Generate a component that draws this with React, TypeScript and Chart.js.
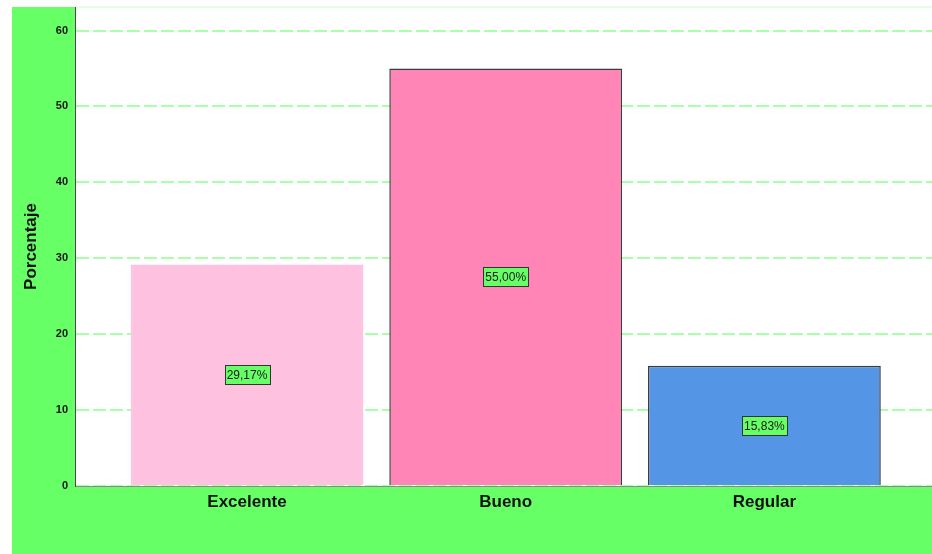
import React, { useEffect, useRef } from "react";
import { Chart, registerables } from "chart.js";

Chart.register(...registerables);

const categories = ["Excelente", "Bueno", "Regular"];
const values = [29.17, 55.0, 15.83];
const valueLabels = ["29,17%", "55,00%", "15,83%"];
const barColors = ["#FFC1E0", "#FF85B6", "#5595E5"];
const barBorders = ["#FFC1E0", "#3c3c3c", "#3c3c3c"];
const yTicks = [0, 10, 20, 30, 40, 50, 60];

const GREEN = "#66FF66";

const backgroundPlugin = {
  id: "bgPanels",
  beforeDraw(chart: any) {
    const { ctx, chartArea } = chart;
    ctx.save();
    ctx.fillStyle = "#ffffff";
    ctx.fillRect(0, 0, chart.width, chart.height);
    ctx.fillStyle = GREEN;
    ctx.fillRect(12, chartArea.top, chart.width - 12, chart.height - chartArea.top);
    ctx.fillStyle = "#ffffff";
    ctx.fillRect(chartArea.left, chartArea.top, chartArea.right - chartArea.left, chartArea.bottom - chartArea.top);
    ctx.strokeStyle = "#e2ffe2";
    ctx.lineWidth = 2;
    ctx.beginPath();
    ctx.moveTo(chartArea.left, chartArea.top);
    ctx.lineTo(chartArea.right, chartArea.top);
    ctx.stroke();
    ctx.restore();
  },
};

const labelPlugin = {
  id: "boxLabels",
  afterDatasetsDraw(chart: any) {
    const { ctx } = chart;
    const meta = chart.getDatasetMeta(0);
    ctx.save();
    ctx.font = "12px 'Liberation Sans', Arial, sans-serif";
    ctx.textAlign = "center";
    ctx.textBaseline = "middle";
    meta.data.forEach((bar: any, i: number) => {
      const { x, y, base } = bar.getProps(["x", "y", "base"], true);
      const cy = (y + base) / 2;
      const text = valueLabels[i];
      const w = ctx.measureText(text).width + 4;
      const h = 19;
      ctx.fillStyle = GREEN;
      ctx.fillRect(Math.round(x - w / 2) + 0.5, Math.round(cy - h / 2) + 0.5, Math.round(w), h);
      ctx.strokeStyle = "#333333";
      ctx.lineWidth = 1;
      ctx.strokeRect(Math.round(x - w / 2) + 0.5, Math.round(cy - h / 2) + 0.5, Math.round(w), h);
      ctx.fillStyle = "#1a1a1a";
      ctx.fillText(text, x, cy + 1);
    });
    ctx.restore();
  },
};

export default function App() {
  const ref = useRef<HTMLCanvasElement | null>(null);

  useEffect(() => {
    if (!ref.current) return;
    const chart = new Chart(ref.current, {
      type: "bar",
      data: {
        datasets: [
          {
            data: values.map((v, i) => ({ x: i, y: v })),
            backgroundColor: barColors,
            borderColor: barBorders,
            borderWidth: 1.5,
            barPercentage: 0.9,
            categoryPercentage: 1,
          },
        ],
      },
      options: {
        animation: false,
        responsive: false,
        maintainAspectRatio: false,
        layout: { padding: { top: 7, left: 0, right: 0, bottom: 0 } },
        plugins: {
          legend: { display: false },
          tooltip: { enabled: false },
        },
        scales: {
          x: {
            type: "linear",
            offset: false,
            min: -0.665,
            max: 2.648,
            grid: { display: false, drawTicks: false, offset: false },
            border: { display: true, color: "#8a8a8a", width: 1 },
            afterBuildTicks: (scale: any) => {
              scale.ticks = categories.map((_, i) => ({ value: i }));
            },
            afterFit: (scale: any) => {
              scale.height = 68;
              scale.paddingLeft = 0;
              scale.paddingRight = 0;
            },
            ticks: {
              padding: 6,
              maxRotation: 0,
              autoSkip: false,
              color: "#111111",
              font: { family: "'Liberation Sans', Arial, sans-serif", size: 17, weight: "bold" },
              callback: (v: any) => categories[Math.round(Number(v))] ?? "",
            },
          },
          y: {
            type: "linear",
            min: 0,
            max: 63.1,
            afterBuildTicks: (scale: any) => {
              scale.ticks = yTicks.map((v) => ({ value: v }));
            },
            afterFit: (scale: any) => {
              scale.width = 75;
              scale.paddingTop = 0;
              scale.paddingBottom = 0;
            },
            grid: {
              display: true,
              drawTicks: false,
              color: "#aaffaa",
              lineWidth: 2,
            },
            border: { display: true, color: "#4a4a4a", width: 1, dash: [13, 4] },
            ticks: {
              padding: 7,
              color: "#111111",
              font: { family: "'Liberation Sans', Arial, sans-serif", size: 11, weight: "bold" },
            },
            title: {
              display: true,
              text: "Porcentaje",
              color: "#111111",
              padding: { top: 21, bottom: 0 },
              font: { family: "'Liberation Sans', Arial, sans-serif", size: 17, weight: "bold" },
            },
          },
        },
      },
      plugins: [backgroundPlugin, labelPlugin],
    } as any);
    return () => chart.destroy();
  }, []);

  return (
    <div style={{ position: "absolute", left: 0, top: 0, width: 932, height: 554 }}>
      <canvas ref={ref} width={932} height={554} style={{ display: "block" }} />
    </div>
  );
}
